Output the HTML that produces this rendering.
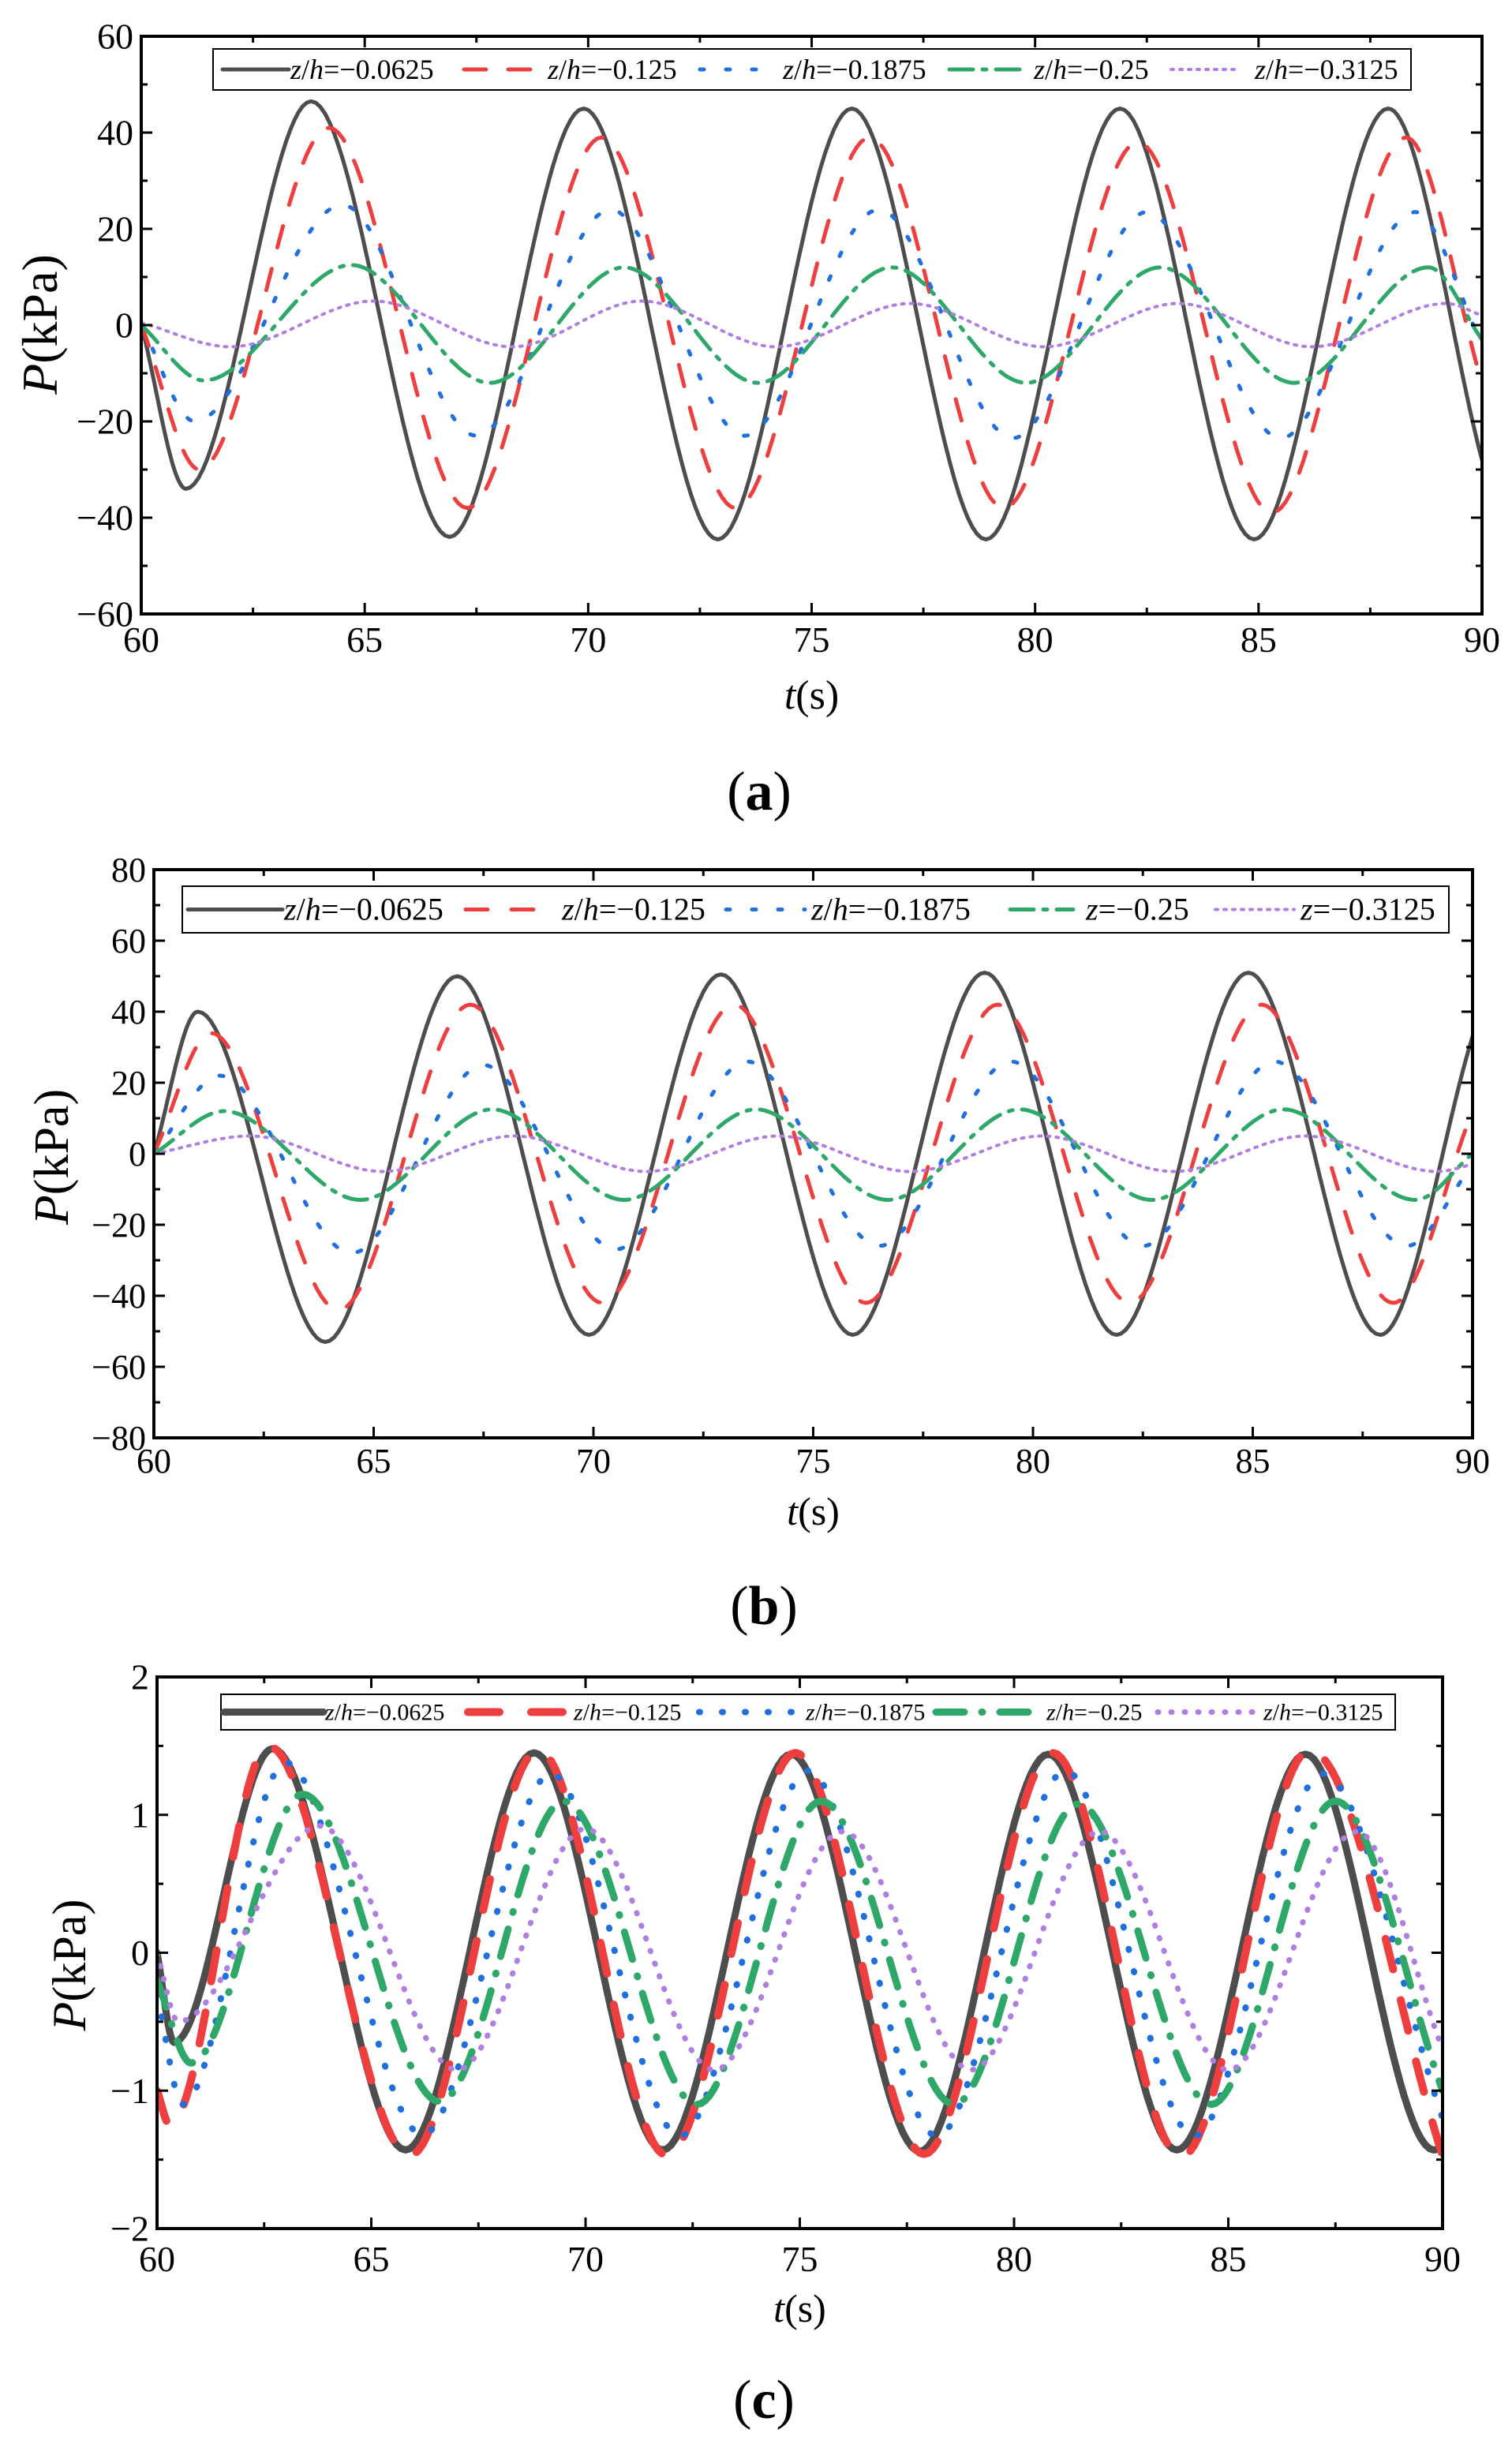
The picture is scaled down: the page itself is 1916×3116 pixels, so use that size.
<!DOCTYPE html>
<html><head><meta charset="utf-8">
<style>
html,body{margin:0;padding:0;background:#fff;}
svg{display:block;}
text{font-family:"Liberation Serif","DejaVu Serif",serif;fill:#000;}
</style></head>
<body>
<svg id="fig" width="1916" height="3116" viewBox="0 0 1916 3116" xmlns="http://www.w3.org/2000/svg"></svg>
<script>
// ---------- data (time in s, pressure in kPa) : extrema ----------
const xTicks = [60,65,70,75,80,85,90];
const aYTicks = [-60,-40,-20,0,20,40,60];
const bYTicks = [-80,-60,-40,-20,0,20,40,60,80];
const cYTicks = [-2,-1,0,1,2];

const aBlack = [[60,0],[61,-34],[63.8,46.5],[66.9,-44],[69.9,45],[72.9,-44.5],[75.9,45],[78.9,-44.5],[81.9,45],[84.9,-44.5],[87.9,45],[90,-28]];
const aRed = [[60,0],[61.3,-30],[64.2,41],[67.3,-38],[70.3,39],[73.3,-38],[76.3,39],[79.3,-38],[82.3,38],[85.3,-39],[88.3,39],[90,-12]];
const aBlue = [[60,0],[61.2,-20],[64.5,25],[67.5,-23],[70.5,24],[73.5,-23],[76.5,24],[79.5,-23.5],[82.5,23.5],[85.5,-23.5],[88.5,23.5],[90,-4]];
const aGreen = [[60,0],[61.4,-11.5],[64.7,12.5],[67.8,-12],[70.8,12],[73.8,-12],[76.8,12],[79.8,-12],[82.8,12],[85.8,-12],[88.8,12],[90,-3]];
const aPurple = [[60,0.5],[62,-4.5],[65.2,5],[68.3,-4.5],[71.2,5],[74.2,-4.5],[77.2,4.5],[80.2,-4.5],[83.2,4.5],[86.2,-4.5],[89.2,4.5],[90,2]];

const bBlack = [[60,0],[61,40],[63.9,-53],[66.9,50],[69.9,-51],[72.9,50.5],[75.9,-51],[78.9,51],[81.9,-51],[84.9,51],[87.9,-51],[90,33]];
const bRed = [[60,0],[61.3,34],[64.2,-44],[67.2,42],[70.2,-42],[73.2,42],[76.2,-42],[79.2,42],[82.2,-42],[85.2,42],[88.2,-42],[90,12]];
const bBlue = [[60,0],[61.5,22],[64.5,-28],[67.5,25],[70.5,-27],[73.5,26],[76.5,-26],[79.5,26],[82.5,-26],[85.5,26],[88.5,-26],[90,-3]];
const bGreen = [[60,0],[61.6,12],[64.7,-13],[67.7,12.5],[70.7,-13],[73.7,12.5],[76.7,-13],[79.7,12.5],[82.7,-13],[85.7,12.5],[88.7,-13],[90,0]];
const bPurple = [[60,0],[62.2,5],[65.2,-5],[68.2,5],[71.2,-5],[74.2,5],[77.2,-5],[80.2,5],[83.2,-5],[86.2,5],[89.2,-5],[90,-3]];

const cBlack = [[60,0],[60.4,-0.65],[62.7,1.48],[65.8,-1.43],[68.8,1.45],[71.8,-1.43],[74.8,1.44],[77.8,-1.44],[80.8,1.44],[83.8,-1.43],[86.8,1.44],[89.8,-1.43],[90,-1.4]];
const cRed = [[60,-1.0],[60.3,-1.25],[62.6,1.5],[65.9,-1.47],[68.9,1.47],[71.9,-1.47],[74.9,1.45],[77.9,-1.46],[80.9,1.45],[83.9,-1.48],[86.9,1.47],[90,-1.47]];
const cBlue = [[60,-0.3],[60.6,-1.1],[63.0,1.38],[66.2,-1.32],[69.2,1.3],[72.2,-1.33],[75.2,1.32],[78.2,-1.33],[81.2,1.32],[84.2,-1.33],[87.2,1.3],[90,-1.2]];
const cGreen = [[60,-0.2],[60.8,-0.8],[63.4,1.15],[66.6,-1.08],[69.5,1.1],[72.6,-1.1],[75.5,1.1],[78.6,-1.1],[81.5,1.08],[84.6,-1.1],[87.5,1.1],[90,-1.0]];
const cPurple = [[60,0],[60.5,-0.5],[63.8,0.92],[67,-0.85],[70,0.9],[73,-0.85],[76,0.88],[79,-0.85],[82,0.88],[85,-0.85],[88,0.88],[90,-0.7]];

const aLabels = ["\u22120.0625","\u22120.125","\u22120.1875","\u22120.25","\u22120.3125"];
const bLabels = ["\u22120.0625","\u22120.125","\u22120.1875","\u22120.25","\u22120.3125"];
const bPrefix = ["z/h","z/h","z/h","z","z"];

// ---------- drawing ----------
const NS = "http://www.w3.org/2000/svg";
const svg = document.getElementById('fig');
function mk(tag, attrs, parent){
  const e = document.createElementNS(NS, tag);
  for (const k in attrs) e.setAttribute(k, attrs[k]);
  (parent||svg).appendChild(e);
  return e;
}
function monoPath(pts, sx, sy){
  const n = pts.length, xs = pts.map(p=>p[0]), ys = pts.map(p=>p[1]);
  const d = [], m = new Array(n);
  for (let i=0;i<n-1;i++) d.push((ys[i+1]-ys[i])/(xs[i+1]-xs[i]));
  m[0]=d[0]; m[n-1]=d[n-2];
  for (let i=1;i<n-1;i++){ m[i] = (d[i-1]*d[i]<=0)?0:(d[i-1]+d[i])/2; }
  let s = "M"+sx(xs[0]).toFixed(1)+","+sy(ys[0]).toFixed(1);
  for (let i=0;i<n-1;i++){
    const h = xs[i+1]-xs[i];
    for (let k=1;k<=30;k++){
      const t=k/30, t2=t*t, t3=t2*t;
      const y = (2*t3-3*t2+1)*ys[i] + (t3-2*t2+t)*h*m[i] + (-2*t3+3*t2)*ys[i+1] + (t3-t2)*h*m[i+1];
      s += "L"+sx(xs[i]+t*h).toFixed(1)+","+sy(y).toFixed(1);
    }
  }
  return s;
}

const colors = ["#4d4d4d","#ef3e3e","#1f6fdf","#2ea868","#b07de0"];
const names = ["z-0.0625","z-0.125","z-0.1875","z-0.25","z-0.3125"];

function chart(cfg){
  const g = mk('g',{});
  
  
  const {x0,x1,y0,y1,ymin,ymax} = cfg;
  const sx = v => x0 + (v-60)/30*(x1-x0);
  const sy = v => y1 - (v-ymin)/(ymax-ymin)*(y1-y0);
  const clipId = cfg.id+'-clip';
  const defs = mk('defs',{},g);
  const cp = mk('clipPath',{id:clipId},defs);
  mk('rect',{x:x0,y:y0,width:x1-x0,height:y1-y0},cp);
  const sg = mk('g',{'clip-path':'url(#'+clipId+')'},g);
  cfg.series.forEach((pts,i)=>{
    const p = mk('path',{d:monoPath(pts,sx,sy),fill:'none',stroke:colors[i],'stroke-width':cfg.lw[i],'stroke-linecap':'round','stroke-linejoin':'round'},sg);
    if (cfg.dash[i]) p.setAttribute('stroke-dasharray', cfg.dash[i]);
    
    
  });
  const fr = mk('rect',{x:x0,y:y0,width:x1-x0,height:y1-y0,fill:'none',stroke:'#000','stroke-width':4},g);
  
  
  xTicks.forEach((v,i)=>{
    const X = sx(v);
    mk('line',{x1:X,y1:y1,x2:X,y2:y1-14,stroke:'#000','stroke-width':3},g);
    mk('line',{x1:X,y1:y0,x2:X,y2:y0+14,stroke:'#000','stroke-width':3},g);
    if (i<xTicks.length-1){
      const Xm = sx(v+2.5);
      mk('line',{x1:Xm,y1:y1,x2:Xm,y2:y1-8,stroke:'#000','stroke-width':3},g);
      mk('line',{x1:Xm,y1:y0,x2:Xm,y2:y0+8,stroke:'#000','stroke-width':3},g);
    }
    const t = mk('text',{x:X,y:cfg.xLabY,'font-size':cfg.tickFs,'text-anchor':'middle'},g);
    t.textContent = v;
    
    
  });
  const yt = cfg.yTicks;
  yt.forEach((v,i)=>{
    const Y = sy(v);
    mk('line',{x1:x0,y1:Y,x2:x0+14,y2:Y,stroke:'#000','stroke-width':3},g);
    mk('line',{x1:x1,y1:Y,x2:x1-14,y2:Y,stroke:'#000','stroke-width':3},g);
    if (i<yt.length-1){
      const Ym = sy((v+yt[i+1])/2);
      mk('line',{x1:x0,y1:Ym,x2:x0+8,y2:Ym,stroke:'#000','stroke-width':3},g);
      mk('line',{x1:x1,y1:Ym,x2:x1-8,y2:Ym,stroke:'#000','stroke-width':3},g);
    }
    const t = mk('text',{x:x0-10,y:Y+cfg.tickFs*0.34,'font-size':cfg.tickFs,'text-anchor':'end'},g);
    t.textContent = v<0 ? '\u2212'+(-v) : v;
    
    
  });
  const xt = mk('text',{x:(x0+x1)/2,y:cfg.xTitleY,'font-size':cfg.titleFs,'text-anchor':'middle'},g);
  xt.innerHTML = '<tspan font-style="italic">t</tspan>(s)';
  
  
  const ytl = mk('text',{x:0,y:0,'font-size':cfg.yTitleFs,'text-anchor':'middle',transform:'translate('+cfg.yTitleX+','+cfg.yTitleY+') rotate(-90)'},g);
  ytl.innerHTML = '<tspan font-style="italic">P</tspan>(kPa)';
  
  
  const L = cfg.legend;
  const lg = mk('g',{},g);
  
  
  mk('rect',{x:L.x,y:L.y,width:L.w,height:L.h,fill:'#fff',stroke:'#000','stroke-width':2},lg);
  const cy = L.y+L.h/2;
  for (let i=0;i<5;i++){
    const e = mk('g',{},lg);
    
    
    const ln = mk('line',{x1:L.ls[i],y1:cy,x2:L.le[i],y2:cy,stroke:colors[i],'stroke-width':cfg.lw[i],'stroke-linecap':'round'},e);
    if (cfg.dash[i]) ln.setAttribute('stroke-dasharray', cfg.dash[i]);
    const t = mk('text',{x:L.tx[i],y:cy+L.fs*0.33,'font-size':L.fs},e);
    const pre = L.prefix[i];
    t.innerHTML = (pre==='z'?'<tspan font-style="italic">z</tspan>':'<tspan font-style="italic">z</tspan>/<tspan font-style="italic">h</tspan>')+'='+L.labels[i];
  }
  const pl = mk('text',{x:cfg.panelX,y:cfg.panelY,'font-size':70,'text-anchor':'middle'},g);
  pl.innerHTML = '(<tspan font-weight="bold">'+cfg.panel+'</tspan>)';
  
  
}

chart({id:'chart-a',x0:179,x1:1878,y0:46,y1:778,ymin:-60,ymax:60,yTicks:aYTicks,
  series:[aBlack,aRed,aBlue,aGreen,aPurple],
  lw:[5,5,5,5,4], dash:[null,'28 28','5 28','30 12 5 12','3 8'],
  tickFs:46,titleFs:52,yTitleFs:64,xLabY:826,xTitleY:898,yTitleX:72,yTitleY:411,
  legend:{x:270,y:62,w:1518,h:52,fs:36,ls:[282,588,887,1203,1484],le:[366,677,963,1300,1570],tx:[368,694,992,1310,1590],labels:aLabels,prefix:["z/h","z/h","z/h","z/h","z/h"]},
  panel:'a',panelX:962,panelY:1026});

chart({id:'chart-b',x0:195,x1:1866,y0:1102,y1:1822,ymin:-80,ymax:80,yTicks:bYTicks,
  series:[bBlack,bRed,bBlue,bGreen,bPurple],
  lw:[5,5,5,5,4], dash:[null,'28 30','5 28','30 12 5 12','3 8'],
  tickFs:44,titleFs:50,yTitleFs:62,xLabY:1866,xTitleY:1932,yTitleX:86,yTitleY:1466,
  legend:{x:231,y:1123,w:1605,h:59,fs:40,ls:[238,590,920,1280,1540],le:[358,700,1020,1360,1640],tx:[360,712,1028,1376,1648],labels:bLabels,prefix:bPrefix},
  panel:'b',panelX:968,panelY:2058});

chart({id:'chart-c',x0:199,x1:1828,y0:2125,y1:2824,ymin:-2,ymax:2,yTicks:cYTicks,
  series:[cBlack,cRed,cBlue,cGreen,cPurple],
  lw:[9,10,8,9,7], dash:[null,'40 40','1 28','36 22 1 22','1 16'],
  tickFs:46,titleFs:50,yTitleFs:60,xLabY:2878,xTitleY:2942,yTitleX:108,yTitleY:2490,
  legend:{x:280,y:2147,w:1488,h:45,fs:30,ls:[284,593,886,1186,1467],le:[410,721,1015,1320,1595],tx:[412,727,1021,1326,1601],labels:aLabels,prefix:["z/h","z/h","z/h","z/h","z/h"]},
  panel:'c',panelX:968,panelY:3064});
</script>
</body></html>
